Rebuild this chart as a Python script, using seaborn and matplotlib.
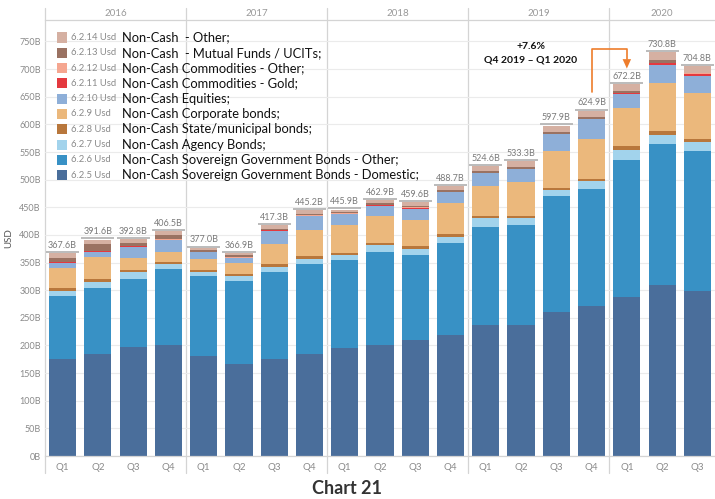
import numpy as np
import pandas as pd
import matplotlib
matplotlib.use("Agg")
import matplotlib.pyplot as plt
from matplotlib.patches import Rectangle, Polygon
import seaborn as sns

# ---- data (billions USD) ----
years = ["2016", "2017", "2018", "2019", "2020"]
quarters = ["Q1", "Q2", "Q3", "Q4"] * 4 + ["Q1", "Q2", "Q3"]
periods = [f"{y} {q}" for y in years for q in ["Q1", "Q2", "Q3", "Q4"]][:19]

sov_domestic = [176, 184, 197.5, 200, 181.5, 166.5, 175.5, 184.5, 195, 201,
                210.5, 219.5, 237.5, 237.5, 260, 272, 288.5, 309, 298]
sov_other = [113, 120, 123.5, 138, 145, 151, 157, 163.5, 160, 169,
             153.7, 165.8, 177, 180, 210, 210.5, 246.3, 256, 253.7]
agency = [9, 10, 11.5, 9, 6.5, 8.5, 10, 8.5, 9, 11,
          11, 11, 16, 13, 12, 15, 19.3, 15.8, 15.8]
state_muni = [6, 6, 4, 4, 4, 3.5, 4, 5, 4, 4,
              4, 5, 3.5, 3.5, 3.5, 4.5, 6.7, 7.2, 6]
corporate = [36, 40, 21, 19, 20, 20, 37.5, 47, 49.5, 48.5,
             48.5, 55.7, 55, 61, 66.5, 71.3, 69.5, 87.7, 84]
equities = [10, 8.5, 21.5, 20.5, 12, 9, 23.5, 26, 20, 19.5,
            19.5, 20, 22.5, 24, 30, 35.7, 25.5, 32.1, 30.8]
gold = [0.5, 2.5, 0.5, 1, 0.5, 0.5, 0.5, 0.5, 1.2, 0.5,
        1.8, 0.5, 0.5, 0.5, 0.7, 0.5, 0.5, 3, 3.5]
commod_other = [0, 0.5, 0.7, 0.5, 0.5, 0.3, 0.5, 0.5, 0.5, 0.5,
                1.5, 0.5, 0.5, 0.5, 0.5, 0.5, 0.5, 0.5, 0.5]
mutual_funds = [8, 12, 6, 7.5, 3, 3.7, 2, 2, 2, 4.3,
                1, 2.5, 2.5, 3, 3, 3.5, 3, 6, 0.5]
noncash_other = [9.1, 8.1, 6.6, 7.0, 4.0, 3.9, 6.8, 7.7, 4.7, 4.6,
                 8.1, 8.2, 9.6, 10.3, 11.7, 11.4, 12.4, 13.5, 12.0]

# series listed bottom -> top of the stack
codes = ["6.2.5 Usd", "6.2.6 Usd", "6.2.7 Usd", "6.2.8 Usd", "6.2.9 Usd",
         "6.2.10 Usd", "6.2.11 Usd", "6.2.12 Usd", "6.2.13 Usd", "6.2.14 Usd"]
names = ["Non-Cash Sovereign Government Bonds - Domestic;",
         "Non-Cash Sovereign Government Bonds - Other;",
         "Non-Cash Agency Bonds;",
         "Non-Cash State/municipal bonds;",
         "Non-Cash Corporate bonds;",
         "Non-Cash Equities;",
         "Non-Cash Commodities - Gold;",
         "Non-Cash Commodities - Other;",
         "Non-Cash  - Mutual Funds / UCITs;",
         "Non-Cash  - Other;"]
colors = ["#4A6E9B", "#3891C5", "#A2D3EC", "#B8773C", "#EBB87C",
          "#8EAFD8", "#E4393F", "#F5A690", "#9A7262", "#D5B0A2"]
series = [sov_domestic, sov_other, agency, state_muni, corporate,
          equities, gold, commod_other, mutual_funds, noncash_other]

df = pd.DataFrame({n: v for n, v in zip(names, series)})
df["period"] = periods
cum = df[names].cumsum(axis=1)
totals = cum[names[-1]].values

# ---- figure ----
sns.set_theme(style="white")
plt.rcParams["font.family"] = ["Lato", "DejaVu Sans"]

W, H = 715, 499
fig = plt.figure(figsize=(W / 100, H / 100), dpi=100)
ax_top, ax_bot = 20, 456
ax = fig.add_axes([45 / W, (H - ax_bot) / H, 670 / W, (ax_bot - ax_top) / H])
px_per_unit = 0.5527
ymax = (ax_bot - ax_top) / px_per_unit


def fpos(x, y):
    return x / W, 1 - y / H


# stacked bars: draw cumulative heights from the top series downwards
for name, col in reversed(list(zip(names, colors))):
    sns.barplot(x=df["period"], y=cum[name], color=col, saturation=1,
                width=0.77, errorbar=None, linewidth=0, ax=ax)

ax.set_xlim(-0.5, 18.5)
ax.set_ylim(0, ymax)
ax.set_xlabel("")
ax.set_ylabel("")

grid_col = "#EBEBEB"
line_col = "#D4D4D4"
ax.set_yticks(np.arange(0, 751, 50))
ax.set_yticklabels([f"{v}B" for v in range(0, 751, 50)], fontsize=6.5, color="#8A8A8A")
ax.set_xticks(range(19))
ax.set_xticklabels(quarters, fontsize=7, color="#8A8A8A")
ax.tick_params(axis="both", length=0)
ax.tick_params(axis="y", pad=3)
ax.tick_params(axis="x", pad=5)
ax.yaxis.grid(True, color=grid_col, lw=0.8)
ax.set_axisbelow(True)
for s in ["left", "right"]:
    ax.spines[s].set_visible(False)
for s in ["top", "bottom"]:
    ax.spines[s].set_color(line_col)
    ax.spines[s].set_linewidth(0.9)

# year panes: separators and header labels
lo = -(473 - ax_bot) / (ax_bot - ax_top)
hi = (ax_bot - 8) / (ax_bot - ax_top)
for xs in [-0.5, 3.5, 7.5, 11.5, 15.5]:
    ax.axvline(xs, ymin=lo, ymax=hi, color=line_col, lw=0.9, clip_on=False, zorder=0.5)
year_centers = [1.5, 5.5, 9.5, 13.5, 17.0]
trans = ax.get_xaxis_transform()
for yr, xc in zip(years, year_centers):
    ax.text(xc, (ax_bot - 14) / (ax_bot - ax_top), yr, transform=trans,
            ha="center", va="center", fontsize=7, color="#999999")

# total labels with reference line on each bar
for i, t in enumerate(totals):
    ax.plot([i - 0.47, i + 0.47], [t + 2, t + 2], color="#B5B5B5", lw=1.3,
            solid_capstyle="butt", zorder=4)
    ax.annotate(f"{t:.1f}B", (i, t + 2), xytext=(0, 1.5), textcoords="offset points",
                ha="center", va="bottom", fontsize=6.5, color="#7A7A7A", zorder=5)

# legend (top of stack first)
for k, idx in enumerate(range(len(names) - 1, -1, -1)):
    yc = 37.5 + 15.3 * k
    x0, y0 = fpos(56.7, yc + 5)
    fig.add_artist(Rectangle((x0, y0), 10 / W, 10 / H, transform=fig.transFigure,
                             facecolor=colors[idx], edgecolor="none"))
    fig.text(*fpos(71, yc), codes[idx], ha="left", va="center", fontsize=6.8, color="#8A8A8A")
    fig.text(*fpos(121.5, yc), names[idx], ha="left", va="center", fontsize=9.3, color="#111111")

# quarter-on-quarter change callout
orange = "#EE7D2B"
ax.plot([15, 15, 16, 16], [659, 736, 736, 718], color=orange, lw=1.2, zorder=6)
ax.add_patch(Polygon([(16 - 0.12, 718), (16 + 0.12, 718), (16, 701)],
                     closed=True, facecolor=orange, edgecolor="none", zorder=6))
fig.text(*fpos(531, 46.7), "+7.6%", ha="center", va="center", fontsize=7.5,
         fontweight="bold", color="#111111")
fig.text(*fpos(531, 60), "Q4 2019 – Q1 2020", ha="center", va="center", fontsize=7.5,
         fontweight="bold", color="#111111")

# axis title and caption
fig.text(*fpos(9, 238), "USD", rotation=90, ha="center", va="center", fontsize=7, color="#555555")
fig.text(*fpos(347, 489), "Chart 21", ha="center", va="center", fontsize=13,
         fontweight="bold", color="#333333")

fig.savefig("out.png", dpi=100)
